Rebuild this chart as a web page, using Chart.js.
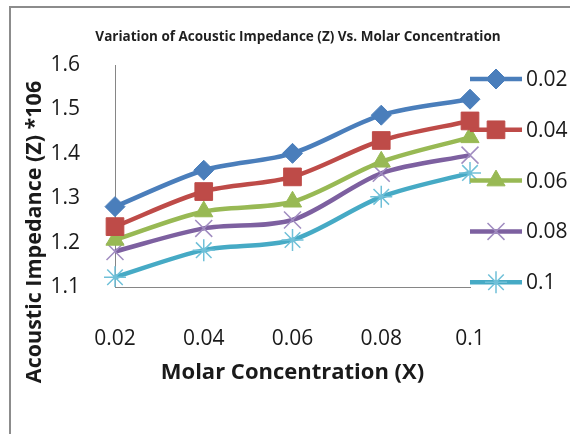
<!DOCTYPE html>
<html>
<head>
<meta charset="utf-8">
<script src="https://cdn.jsdelivr.net/npm/chart.js@4/dist/chart.umd.min.js"></script>
<style>
  html, body { margin: 0; padding: 0; background: #fff; }
  #wrap { width: 570px; height: 434px; position: relative; }
</style>
</head>
<body>
<div id="wrap"><canvas id="my-chart" width="570" height="434"></canvas></div>
<script>
let ctx = document.getElementById('my-chart').getContext('2d');

// molar concentration (x axis)
let labels = ["0.02", "0.04", "0.06", "0.08", "0.1"];
// one series per concentration
let seriesNames = ["0.02", "0.04", "0.06", "0.08", "0.1"];
let z002 = [1.281, 1.363, 1.401, 1.487, 1.523];
let z004 = [1.236, 1.315, 1.348, 1.430, 1.474];
let z006 = [1.206, 1.270, 1.292, 1.382, 1.437];
let z008 = [1.180, 1.232, 1.251, 1.356, 1.397];
let z010 = [1.122, 1.183, 1.206, 1.303, 1.357];
let yTicks = [1.1, 1.2, 1.3, 1.4, 1.5, 1.6];
let chartTitle = 'Variation of Acoustic Impedance (Z) Vs. Molar Concentration';
let yTitle = 'Acoustic Impedance (Z) *106';

const font = "'Open Sans', 'Noto Sans', sans-serif";

function series(name, values, color, style, radius, markerColor, bw) {
    return {
        label: name,
        data: values,
        borderColor: color,
        borderWidth: 4.5,
        tension: 0.3,
        pointStyle: style,
        pointRadius: radius,
        pointHoverRadius: radius,
        pointBackgroundColor: markerColor,
        pointBorderColor: markerColor,
        pointBorderWidth: bw
    };
}

function drawMarker(c, ds, x, y) {
    c.save();
    c.fillStyle = ds.pointBackgroundColor;
    c.strokeStyle = ds.pointBorderColor;
    c.lineWidth = ds.pointBorderWidth;
    Chart.helpers.drawPoint(c, {
        pointStyle: ds.pointStyle,
        radius: ds.pointRadius,
        borderWidth: ds.pointBorderWidth
    }, x, y);
    c.restore();
}

// frame, titles and an Excel style legend (line + marker)
const extras = {
    id: 'extras',
    afterDraw(chart) {
        const c = chart.ctx;
        c.save();
        c.strokeStyle = '#8c8c8c';
        c.lineWidth = 2;
        c.beginPath();
        c.moveTo(10, 440);
        c.lineTo(10, 7);
        c.lineTo(580, 7);
        c.stroke();

        c.fillStyle = '#1f1f1f';
        c.font = "bold 13.5px " + font;
        c.textAlign = 'center';
        c.textBaseline = 'middle';
        c.fillText(chartTitle, 298, 37);

        // y title sits lower than the plot centre
        c.save();
        c.translate(35, 232);
        c.rotate(-Math.PI / 2);
        c.fillStyle = '#1a1a1a';
        c.font = "bold 21.5px " + font;
        c.fillText(yTitle, 0, 0);
        c.restore();

        chart.data.datasets.forEach((ds, i) => {
            const y = 79 + i * 50.8;
            c.strokeStyle = ds.borderColor;
            c.lineWidth = ds.borderWidth;
            c.beginPath();
            c.moveTo(470, y);
            c.lineTo(522, y);
            c.stroke();
            drawMarker(c, ds, 496, y);
            c.fillStyle = '#1a1a1a';
            c.font = "21px " + font;
            c.textBaseline = 'middle';
            c.textAlign = 'left';
            c.fillText(ds.label, 526, y + 1);
        });
        c.restore();
    }
};

let chart = new Chart(ctx, {
    type: 'line',
    data: {
        labels: labels,
        datasets: [
            series(seriesNames[0], z002, '#4a7ebb', 'rectRot', 10, '#4a7ebb', 1),
            series(seriesNames[1], z004, '#be4b48', 'rect', 12.5, '#be4b48', 1),
            series(seriesNames[2], z006, '#98b954', 'triangle', 10.5, '#98b954', 1),
            series(seriesNames[3], z008, '#7d60a0', 'crossRot', 12, '#a08cc0', 1.5),
            series(seriesNames[4], z010, '#46aac5', 'star', 11, '#70c0d8', 1.5)
        ]
    },
    options: {
        responsive: false,
        animation: false,
        layout: {
            padding: { left: 0, top: 65, right: 100, bottom: 0 }
        },
        plugins: {
            legend: { display: false },
            tooltip: { enabled: false },
            title: { display: false }
        },
        scales: {
            x: {
                grid: { display: false },
                border: { display: true, color: '#868686', width: 1 },
                ticks: {
                    color: '#1a1a1a',
                    padding: 31,
                    maxRotation: 0,
                    font: { family: font, size: 21 }
                },
                title: {
                    display: true,
                    text: 'Molar Concentration (X)',
                    color: '#1a1a1a',
                    font: { family: font, size: 22, weight: 'bold' },
                    padding: { top: 0, bottom: 48 }
                },
                afterFit(scale) { scale.height = 147; }
            },
            y: {
                min: yTicks[0],
                max: yTicks[yTicks.length - 1],
                grid: { display: false },
                border: { display: true, color: '#868686', width: 1 },
                afterBuildTicks(scale) {
                    scale.ticks = yTicks.map(v => ({ value: v }));
                },
                ticks: {
                    color: '#1a1a1a',
                    padding: 27,
                    callback: v => v.toFixed(1),
                    font: { family: font, size: 21 }
                },
                afterFit(scale) { scale.width = 115; }
            }
        }
    },
    plugins: [extras]
});
</script>
</body>
</html>
